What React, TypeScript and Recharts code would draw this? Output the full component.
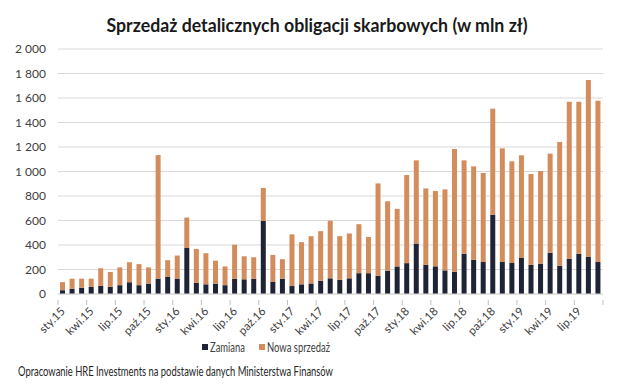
import React from 'react';
import { BarChart, Bar, XAxis, YAxis, CartesianGrid } from 'recharts';

const months = [
  'sty.15','lut.15','mar.15','kwi.15','maj.15','cze.15','lip.15','sie.15','wrz.15','paź.15','lis.15','gru.15',
  'sty.16','lut.16','mar.16','kwi.16','maj.16','cze.16','lip.16','sie.16','wrz.16','paź.16','lis.16','gru.16',
  'sty.17','lut.17','mar.17','kwi.17','maj.17','cze.17','lip.17','sie.17','wrz.17','paź.17','lis.17','gru.17',
  'sty.18','lut.18','mar.18','kwi.18','maj.18','cze.18','lip.18','sie.18','wrz.18','paź.18','lis.18','gru.18',
  'sty.19','lut.19','mar.19','kwi.19','maj.19','cze.19','lip.19','sie.19','wrz.19',
];

const zamiana = [
  31, 43, 50, 58, 66, 58, 72, 96, 72, 85, 126, 139,
  126, 376, 91, 79, 85, 72, 125, 120, 125, 597, 98, 125,
  65, 79, 86, 108, 128, 115, 128, 170, 170, 149, 190, 225,
  252, 412, 238, 226, 193, 182, 329, 280, 261, 648, 261, 253,
  294, 239, 248, 337, 231, 288, 329, 305, 261,
];

const nowaSprzedaz = [
  66, 82, 75, 67, 144, 122, 145, 163, 172, 132, 1008, 137,
  188, 248, 277, 254, 187, 153, 277, 188, 175, 269, 221, 159,
  422, 344, 386, 405, 470, 357, 366, 400, 296, 754, 567, 470,
  719, 679, 624, 615, 661, 1002, 762, 762, 727, 865, 928, 830,
  838, 741, 756, 809, 1010, 1282, 1241, 1442, 1317,
];

const yTicks = [0, 200, 400, 600, 800, 1000, 1200, 1400, 1600, 1800, 2000];

const data = months.map((m, i) => ({ month: m, zamiana: zamiana[i], nowa: nowaSprzedaz[i] }));

const DARK = '#1e2336';
const ORANGE = '#d38c5c';
const FONT = 'Lato, "Open Sans", sans-serif';

const fmt = (n: number) =>
  n >= 1000 ? `${Math.floor(n / 1000)} ${String(n % 1000).padStart(3, '0')}` : String(n);

const PLOT_LEFT = 58;
const PLOT_RIGHT = 603;
const BAND = (PLOT_RIGHT - PLOT_LEFT) / months.length;

const XTick = (props: any) => {
  const { x, y, payload } = props;
  const left = x - BAND / 2;
  const isLast = payload.index === 54;
  return (
    <g>
      <line x1={left} y1={y - 2} x2={left} y2={y + 3} stroke="#bfbfbf" />
      {isLast && <line x1={left + 3 * BAND} y1={y - 2} x2={left + 3 * BAND} y2={y + 3} stroke="#bfbfbf" />}
      <text
        x={x + 3}
        y={y + 10}
        textAnchor="end"
        fontSize={11.5}
        fill="#404040"
        fontFamily={FONT}
        transform={`rotate(-45, ${x + 3}, ${y + 10})`}
      >
        {payload.value}
      </text>
    </g>
  );
};

export default function App() {
  return (
    <div style={{ position: 'absolute', left: 0, top: 0, width: 625, height: 388, background: '#fff', overflow: 'hidden' }}>
      <svg width={625} height={388} style={{ position: 'absolute', left: 0, top: 0 }}>
        <text
          x={317}
          y={32}
          textAnchor="middle"
          fontFamily={FONT}
          fontWeight={700}
          fontSize={18}
          fill="#1a1a1a"
          textLength={421}
          lengthAdjust="spacingAndGlyphs"
        >
          Sprzedaż detalicznych obligacji skarbowych (w mln zł)
        </text>
        <rect x={202} y={344} width={6} height={6} fill={DARK} />
        <text x={210} y={352} fontFamily={FONT} fontSize={13} fill="#404040" textLength={35} lengthAdjust="spacingAndGlyphs">
          Zamiana
        </text>
        <rect x={259} y={344} width={6} height={6} fill={ORANGE} />
        <text x={267} y={352} fontFamily={FONT} fontSize={13} fill="#404040" textLength={63} lengthAdjust="spacingAndGlyphs">
          Nowa sprzedaż
        </text>
        <text x={18} y={376} fontFamily={FONT} fontSize={12.5} fill="#262626" textLength={315} lengthAdjust="spacingAndGlyphs">
          Opracowanie HRE Investments na podstawie danych Ministerstwa Finansów
        </text>
      </svg>
      <div style={{ position: 'absolute', left: 0, top: 0 }}>
        <BarChart
          width={625}
          height={388}
          data={data}
          margin={{ top: 49, right: 22, left: 0, bottom: 54 }}
          barSize={5}
        >
          <CartesianGrid vertical={false} stroke="#d9d9d9" />
          <XAxis
            dataKey="month"
            interval={2}
            tickLine={false}
            axisLine={{ stroke: '#d9d9d9' }}
            tick={<XTick />}
            height={40}
          />
          <YAxis
            width={58}
            domain={[0, 2000]}
            ticks={yTicks}
            tickFormatter={fmt}
            axisLine={false}
            tickLine={false}
            tickSize={0}
            tickMargin={12}
            tick={{ fontSize: 12, fill: '#404040', fontFamily: FONT }}
          />
          <Bar dataKey="zamiana" name="Zamiana" stackId="a" fill={DARK} isAnimationActive={false} />
          <Bar dataKey="nowa" name="Nowa sprzedaż" stackId="a" fill={ORANGE} isAnimationActive={false} />
        </BarChart>
      </div>
    </div>
  );
}
